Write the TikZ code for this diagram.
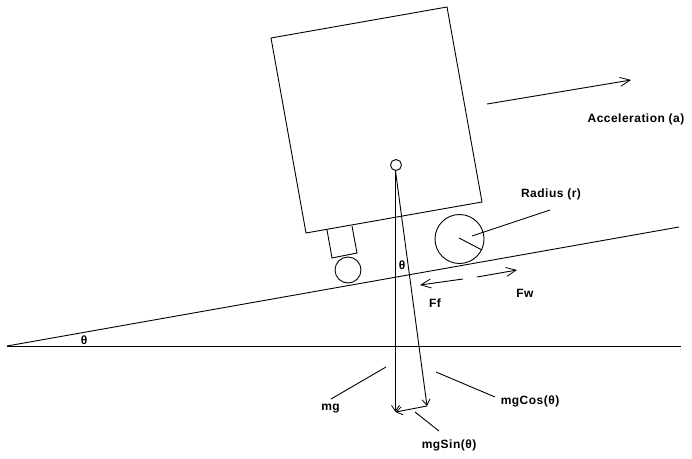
\documentclass[tikz,border=0pt]{standalone}
\usepackage{fontspec}
\setmainfont{Liberation Sans}[LetterSpace=4]
\usetikzlibrary{arrows.meta}
\tikzset{
  ln/.style={line width=0.9pt,black},
  arr/.style={ln,-{Straight Barb[length=10pt,width=9pt,line width=0.8pt]}},
  arrsm/.style={ln,-{Straight Barb[length=6pt,width=8pt,line width=0.8pt]}},
  lab/.style={inner sep=0pt,font=\fontsize{12pt}{14pt}\selectfont\bfseries,text=black},
  disc/.style={circle,draw=black,line width=0.9pt,inner sep=0pt,fill=none}
}
\begin{document}
\begin{tikzpicture}[x=1pt,y=-1pt]
\useasboundingbox (0,0) rectangle (692,458);
\fill[white] (0,0) rectangle (692,458);
% body
\coordinate (b1) at (271,38); \coordinate (b2) at (447,7); \coordinate (b3) at (482,202); \coordinate (b4) at (306,233);
\draw[ln] (b1) -- (b2) -- (b3) -- (b4) -- cycle;
\coordinate (s1) at (327,230); \coordinate (s2) at (352,226); \coordinate (s3) at (357,253); \coordinate (s4) at (332,258);
\draw[ln] (s1) -- (s4) -- (s3) -- (s2);
\node[disc,minimum size=26pt] (small) at (348,270) {};
\node[disc,minimum size=49pt] (big) at (459.5,239) {};
\node[disc,minimum size=11pt] (pivot) at (396,165) {};
% ground
\coordinate (o) at (7,346); \coordinate (inc) at (679,227); \coordinate (hor) at (681,346);
\draw[ln] (o) -- (inc);
\draw[ln] (o) -- (hor);
% force triangle
\coordinate (top) at (395.5,171); \coordinate (mgend) at (395.5,412); \coordinate (cosend) at (427,406);
\draw[arrsm] (top) -- (mgend);
\draw[arrsm] (top) -- (cosend);
\draw[arrsm] (cosend) -- (mgend);
% arrows
\coordinate (a1) at (487,104); \coordinate (a2) at (631,80);
\draw[arr] (a1) -- (a2);
\coordinate (f1) at (463,279); \coordinate (f2) at (420,285);
\draw[arr] (f1) -- (f2);
\coordinate (w1) at (477,277); \coordinate (w2) at (517,270);
\draw[arr] (w1) -- (w2);
% labels
\node[lab] (acc) at (636,119.5) {Acceleration (a)};
\node[lab] (rad) at (551,194.5) {Radius (r)};
\node[lab] (ff) at (435,303) {Ff};
\node[lab] (fw) at (525,293) {Fw};
\node[lab] (th1) at (402,265.5) {θ};
\node[lab] (th2) at (84,340) {θ};
\node[lab] (mg) at (330.5,409) {mg};
\node[lab] (cos) at (530,401.5) {mgCos(θ)};
\node[lab] (sin) at (449,445) {mgSin(θ)};
% leaders
\coordinate (r0) at (459,238); \coordinate (r1) at (482,250);
\draw[ln] (r0) -- (r1);
\coordinate (l1) at (472,236); \coordinate (l2) at (550,210);
\draw[ln] (l1) -- (l2);
\coordinate (m1) at (386,367); \coordinate (m2) at (331,399);
\draw[ln] (m1) -- (m2);
\coordinate (c1) at (436,372); \coordinate (c2) at (495,397);
\draw[ln] (c1) -- (c2);
\coordinate (n1) at (415,412); \coordinate (n2) at (439,431);
\draw[ln] (n1) -- (n2);
\end{tikzpicture}
\end{document}
